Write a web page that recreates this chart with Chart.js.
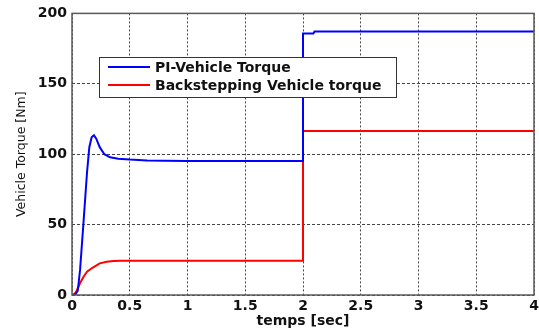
<!DOCTYPE html>
<html>
<head>
<meta charset="utf-8">
<script src="https://cdn.jsdelivr.net/npm/chart.js@4/dist/chart.umd.min.js"></script>
<style>
	html, body { margin: 0; padding: 0; background: #fff; }
	#wrap { width: 539px; height: 334px; }
</style>
</head>
<body>
<div id="wrap"><canvas id="torqueChart" width="539" height="334"></canvas></div>
<script>
// PI controller response (time in s, torque in Nm)
var piTime = [0, 0.03, 0.05, 0.07, 0.1, 0.13, 0.15, 0.17, 0.19, 0.21, 0.24, 0.28, 0.33, 0.4, 0.5, 0.65, 0.8, 1.0, 2.0, 2.0, 2.09, 2.1, 4];
var piTorque = [0, 0.5, 3, 18, 52, 87, 105, 112, 113.5, 111, 105, 100, 97.8, 96.8, 96.2, 95.6, 95.3, 95.2, 95.2, 185.8, 185.8, 187.2, 187.2];

// backstepping controller response
var bsTime = [0, 0.02, 0.04, 0.07, 0.1, 0.13, 0.18, 0.24, 0.3, 0.36, 0.42, 2.0, 2.0, 4];
var bsTorque = [0, 0.5, 3, 8.5, 13, 16.5, 19.5, 22.5, 23.6, 24.1, 24.3, 24.3, 116.5, 116.5];

var seriesLabels = ["PI-Vehicle Torque", "Backstepping Vehicle torque"];
var xTicks = [0, 0.5, 1, 1.5, 2, 2.5, 3, 3.5, 4];
var yTicks = [0, 50, 100, 150, 200];

function toPoints(xs, ys) {
	return xs.map(function (x, i) {
		return { x: x, y: ys[i] };
	});
}

var fontBold = { family: "DejaVu Sans", size: 14, weight: "bold" };

// frame around the plot area and the legend box in the upper left
var framePlugin = {
	id: "frame",
	afterDatasetsDraw: function (chart) {
		var ctx = chart.ctx;
		var a = chart.chartArea;
		ctx.save();
		ctx.strokeStyle = "#5a5a5a";
		ctx.lineWidth = 1.5;
		ctx.setLineDash([]);
		ctx.strokeRect(a.left, a.top, a.right - a.left, a.bottom - a.top);

		// legend
		var bx = 99, by = 57, bw = 297, bh = 40;
		ctx.fillStyle = "#fff";
		ctx.fillRect(bx, by, bw, bh);
		ctx.lineWidth = 1;
		ctx.strokeStyle = "#333";
		ctx.strokeRect(bx + 0.5, by + 0.5, bw, bh);
		ctx.font = "bold 14px 'DejaVu Sans'";
		ctx.textBaseline = "middle";
		chart.data.datasets.forEach(function (ds, i) {
			var ly = by + 10 + i * 18;
			ctx.strokeStyle = ds.borderColor;
			ctx.lineWidth = 2;
			ctx.beginPath();
			ctx.moveTo(bx + 9, ly);
			ctx.lineTo(bx + 51, ly);
			ctx.stroke();
			ctx.fillStyle = "#111";
			ctx.fillText(ds.label, bx + 56, ly + 1);
		});
		ctx.restore();
	}
};

var ctx = document.getElementById("torqueChart").getContext("2d");
var myChart = new Chart(ctx, {
	type: "line",
	data: {
		datasets: [
			{
				label: seriesLabels[0],
				data: toPoints(piTime, piTorque),
				borderColor: "#0000ff",
				borderWidth: 2,
				pointRadius: 0,
				tension: 0,
				fill: false,
			},
			{
				label: seriesLabels[1],
				data: toPoints(bsTime, bsTorque),
				borderColor: "#ff0000",
				borderWidth: 2,
				pointRadius: 0,
				tension: 0,
				fill: false,
			},
		],
	},
	options: {
		responsive: false,
		animation: false,
		layout: { padding: { top: 13, right: 5, left: 0, bottom: 0 } },
		scales: {
			x: {
				type: "linear",
				min: 0,
				max: 4,
				afterBuildTicks: function (axis) {
					axis.ticks = xTicks.map(function (v) { return { value: v }; });
				},
				afterFit: function (axis) {
					axis.height = 39;
					axis.paddingLeft = 0;
					axis.paddingRight = 0;
				},
				ticks: {
					color: "#111",
					font: fontBold,
					padding: 3,
					maxRotation: 0,
					callback: function (v) { return String(v); },
				},
				grid: {
					color: "#444",
					drawTicks: false,
				},
				border: { display: false, dash: [2, 2] },
				title: {
					display: true,
					text: "temps [sec]",
					color: "#111",
					font: fontBold,
					padding: { top: 0, bottom: 4 },
				},
			},
			y: {
				min: 0,
				max: 200,
				afterBuildTicks: function (axis) {
					axis.ticks = yTicks.map(function (v) { return { value: v }; });
				},
				afterFit: function (axis) { axis.width = 72; },
				ticks: {
					color: "#111",
					font: fontBold,
					padding: 5,
				},
				grid: {
					color: "#444",
					drawTicks: false,
				},
				border: { display: false, dash: [3, 2] },
				title: {
					display: true,
					text: "Vehicle Torque [Nm]",
					color: "#111",
					font: { family: "DejaVu Sans", size: 12.5 },
					padding: { top: 14, bottom: 0 },
				},
			},
		},
		plugins: {
			legend: { display: false },
			tooltip: { enabled: false },
		},
	},
	plugins: [framePlugin],
});
</script>
</body>
</html>
